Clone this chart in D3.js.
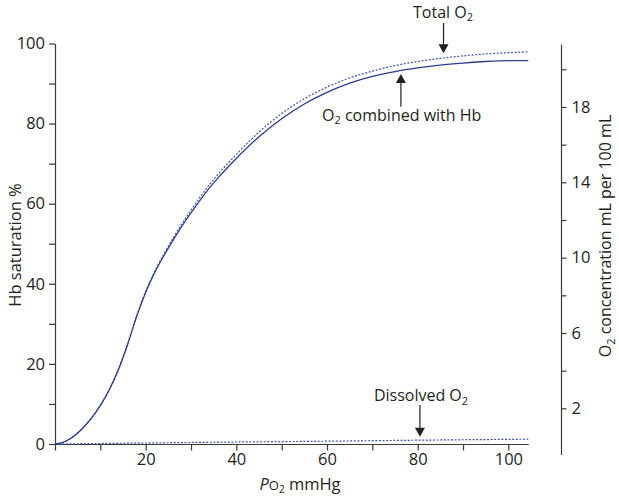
<!DOCTYPE html>
<html>
<head>
<meta charset="utf-8">
<script src="https://cdn.jsdelivr.net/npm/d3@7"></script>
<style>
  body { margin: 0; background: #fff; }
  svg text { font-family: 'Open Sans', sans-serif; fill: #231f20; }
</style>
</head>
<body>
<div class="canvas"></div>
<script>
const canvasWidth = 619;
const canvasHeight = 499;

// O2 dissociation curve (PO2 mmHg, % saturation)
const pO2 = [0, 2, 4, 6, 8, 10, 12, 14, 16, 18, 20, 22, 24, 26, 28, 30, 33, 36, 40, 45, 50, 55, 60, 65, 70, 75, 80, 85, 90, 95, 100, 104.4];
const hbSat = [0, 0.5, 1.8, 3.8, 6.4, 9.6, 13.6, 18.6, 24.8, 31.8, 37.8, 42.8, 47, 50.8, 54.4, 57.7, 62.4, 66.5, 71.3, 76.7, 81.2, 84.9, 87.8, 90.1, 91.8, 93, 93.9, 94.6, 95.1, 95.5, 95.7, 95.7];
const totalO2 = [0, 0.5, 1.85, 3.85, 6.45, 9.7, 13.7, 18.7, 24.9, 32, 38.1, 43.1, 47.4, 51.3, 55, 58.4, 63.2, 67.4, 72.3, 77.9, 82.5, 86.2, 89.1, 91.4, 93.1, 94.5, 95.5, 96.3, 96.9, 97.4, 97.7, 97.9];
const dissolvedPO2 = [0, 20, 40, 60, 80, 104.4];
const dissolvedO2 = [0, 0.25, 0.5, 0.7, 0.95, 1.2];

const xTicks = [0, 10, 20, 30, 40, 50, 60, 70, 80, 90, 100];
const xLabels = [20, 40, 60, 80, 100];
const leftTicks = [0, 10, 20, 30, 40, 50, 60, 70, 80, 90, 100];
const leftLabels = [0, 20, 40, 60, 80, 100];
const rightTicks = [2, 4, 6, 8, 10, 12, 14, 16, 18, 20];
const rightLabels = [2, 6, 10, 14, 18];

const svg = d3.select('.canvas')
	.append('svg')
	.attr('width', canvasWidth)
	.attr('height', canvasHeight);

const x = d3.scaleLinear().domain([0, 104.4]).range([55, 528.3]);
const y = d3.scaleLinear().domain([0, 100]).range([444, 43.5]);
const y2 = d3.scaleLinear().domain([0, 20]).range([446, 69.3]);

const axisColor = '#3a3a3a';
const fontSize = '16.5px';

// x axis
const xAxisGroup = svg.append('g')
	.attr('transform', `translate(0,${y(0)})`)
	.call(d3.axisBottom(x)
		.tickValues(xTicks)
		.tickFormat(d => xLabels.includes(d) ? d : '')
		.tickSize(6.5)
		.tickSizeOuter(0)
		.tickPadding(3));

// left axis
const yAxisGroup = svg.append('g')
	.attr('transform', `translate(${x(0)},0)`)
	.call(d3.axisLeft(y)
		.tickValues(leftTicks)
		.tickFormat(d => leftLabels.includes(d) ? d : '')
		.tickSize(6)
		.tickSizeOuter(0)
		.tickPadding(4));

// right axis
const rightAxisGroup = svg.append('g')
	.attr('transform', 'translate(561.5,0)')
	.call(d3.axisRight(y2)
		.tickValues(rightTicks)
		.tickFormat(d => rightLabels.includes(d) ? d : '')
		.tickSize(5)
		.tickSizeOuter(0)
		.tickPadding(5));
rightAxisGroup.select('.domain')
	.attr('d', `M0,${y2(-0.48)}V${y2(21.3)}`);

[xAxisGroup, yAxisGroup, rightAxisGroup].forEach(g => {
	g.selectAll('path, line').attr('stroke', axisColor).attr('stroke-width', 1.2);
	g.selectAll('text')
		.attr('font-family', "'Open Sans', sans-serif")
		.attr('font-size', fontSize)
		.attr('fill', '#231f20');
});

// curves
const line = d3.line()
	.x(d => x(d[0]))
	.y(d => y(d[1]))
	.curve(d3.curveMonotoneX);

svg.append('path')
	.datum(d3.zip(dissolvedPO2, dissolvedO2))
	.attr('d', line)
	.attr('fill', 'none')
	.attr('stroke', '#3d55b0')
	.attr('stroke-width', 1.2)
	.attr('stroke-dasharray', '2,1.6');

svg.append('path')
	.datum(d3.zip(pO2, totalO2))
	.attr('d', line)
	.attr('fill', 'none')
	.attr('stroke', '#3d55b0')
	.attr('stroke-width', 1.2)
	.attr('stroke-dasharray', '2,1.6');

svg.append('path')
	.datum(d3.zip(pO2, hbSat))
	.attr('d', line)
	.attr('fill', 'none')
	.attr('stroke', '#2e3d8f')
	.attr('stroke-width', 1.3);

// axis titles
svg.append('text')
	.attr('transform', 'translate(21,245) rotate(-90)')
	.attr('text-anchor', 'middle')
	.attr('font-size', fontSize)
	.text('Hb saturation %');

const rightTitle = svg.append('text')
	.attr('transform', 'translate(611,236) rotate(-90)')
	.attr('text-anchor', 'middle')
	.attr('font-size', '16px');
rightTitle.append('tspan').text('O');
rightTitle.append('tspan').attr('font-size', '11px').attr('dy', 3.5).text('2');
rightTitle.append('tspan').attr('dy', -3.5).text(' concentration mL per 100 mL');

const xTitle = svg.append('text')
	.attr('x', 300)
	.attr('y', 490)
	.attr('text-anchor', 'middle')
	.attr('font-size', fontSize);
xTitle.append('tspan').attr('font-style', 'italic').text('P');
xTitle.append('tspan').attr('font-size', '13px').text('O');
xTitle.append('tspan').attr('font-size', '10px').attr('dy', 3).text('2');
xTitle.append('tspan').attr('dy', -3).text(' mmHg');

// annotations with arrows: pO2 position, arrow tip and tail and label baseline (px)
const notes = [
	{ label: 'Total O', at: 85.7, tip: 53.3, tail: 23, textY: 17.5, textX: 443 },
	{ label: 'O', after: ' combined with Hb', at: 76.3, tip: 74, tail: 106.7, textY: 120.5, textX: 401.7 },
	{ label: 'Dissolved O', at: 80.5, tip: 436.7, tail: 405, textY: 401, textX: 421 }
];

notes.forEach(n => {
	const ax = x(n.at);
	const dir = n.tip > n.tail ? 1 : -1;
	svg.append('line')
		.attr('x1', ax).attr('x2', ax)
		.attr('y1', n.tail).attr('y2', n.tip - dir * 8)
		.attr('stroke', '#231f20')
		.attr('stroke-width', 1.2);
	svg.append('path')
		.attr('d', `M${ax - 5},${n.tip - dir * 9}L${ax + 5},${n.tip - dir * 9}L${ax},${n.tip}Z`)
		.attr('fill', '#231f20');
	const t = svg.append('text')
		.attr('x', n.textX)
		.attr('y', n.textY)
		.attr('text-anchor', 'middle')
		.attr('font-size', '16px');
	t.append('tspan').text(n.label);
	t.append('tspan').attr('font-size', '11px').attr('dy', 3.5).text('2');
	if (n.after) t.append('tspan').attr('dy', -3.5).text(n.after);
});
</script>
</body>
</html>
